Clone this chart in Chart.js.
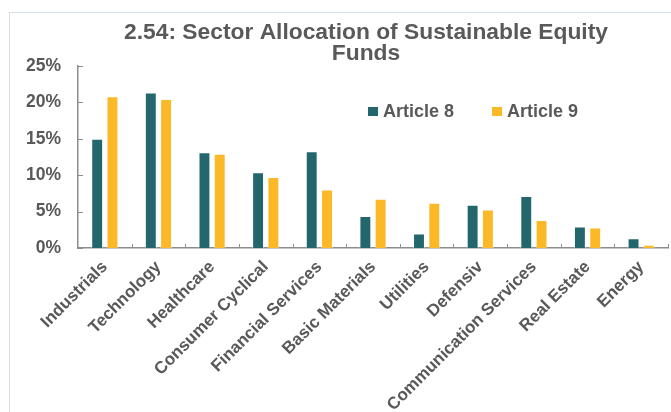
<!DOCTYPE html>
<html>
<head>
<meta charset="utf-8">
<script src="https://cdn.jsdelivr.net/npm/chart.js@4/dist/chart.umd.min.js"></script>
<style>
  html, body { margin: 0; padding: 0; background: #fff; }
  #chart { display: block; }
</style>
</head>
<body>
<canvas id="chart" width="671" height="412"></canvas>
<script>
// data (percent)
const categories = [
  "Industrials", "Technology", "Healthcare", "Consumer Cyclical",
  "Financial Services", "Basic Materials", "Utilities", "Defensiv",
  "Communication Services", "Real Estate", "Energy"
];
const article8 = [15.0, 21.35, 13.15, 10.4, 13.3, 4.4, 2.0, 5.95, 7.15, 2.95, 1.35];
const article9 = [20.85, 20.45, 12.95, 9.75, 8.05, 6.75, 6.2, 5.3, 3.85, 2.8, 0.45];
const yTicks = [0, 5, 10, 15, 20, 25];

const titleLines = ["2.54: Sector Allocation of Sustainable Equity", "Funds"];
const TEXT = "#595959";
const AXIS = "#8c8c8c";
const FONT = "'Liberation Sans', Arial, sans-serif";

// title, legend, frame and inside tick marks
const extras = {
  id: "extras",
  beforeDraw(chart) {
    const ctx = chart.ctx;
    ctx.save();
    ctx.strokeStyle = "#d4e0e5";
    ctx.lineWidth = 1;
    ctx.strokeRect(9.5, 12.5, 720, 500);
    ctx.restore();
  },
  afterDraw(chart) {
    const ctx = chart.ctx;
    ctx.save();
    // title
    ctx.fillStyle = TEXT;
    ctx.font = "bold 22.8px " + FONT;
    ctx.textAlign = "center";
    ctx.textBaseline = "alphabetic";
    ctx.fillText(titleLines[0], 366, 38.5);
    ctx.fillText(titleLines[1], 366, 60);

    // legend
    ctx.font = "bold 18px " + FONT;
    ctx.textAlign = "left";
    let x = 368;
    chart.data.datasets.forEach((ds) => {
      ctx.fillStyle = ds.backgroundColor;
      ctx.fillRect(x, 107, 10, 9);
      ctx.fillStyle = TEXT;
      ctx.fillText(ds.label, x + 15, 117);
      x += 15 + ctx.measureText(ds.label).width + 38;
    });

    // inside tick marks
    const xs = chart.scales.x, ys = chart.scales.y;
    const area = chart.chartArea;
    ctx.strokeStyle = AXIS;
    ctx.lineWidth = 1;
    ctx.beginPath();
    const half = (xs.getPixelForTick(1) - xs.getPixelForTick(0)) / 2;
    for (let i = 0; i < categories.length; i++) {
      const px = Math.round(xs.getPixelForTick(i) + half) + 0.5;
      ctx.moveTo(px, area.bottom);
      ctx.lineTo(px, area.bottom - 4);
    }
    yTicks.forEach((v) => {
      const py = Math.round(ys.getPixelForValue(v)) + 0.5;
      ctx.moveTo(area.left, py);
      ctx.lineTo(area.left + 5, py);
    });
    ctx.stroke();
    ctx.restore();
  }
};

new Chart(document.getElementById("chart"), {
  type: "bar",
  data: {
    labels: categories,
    datasets: [
      {
        label: "Article 8",
        data: article8,
        backgroundColor: "#23676c",
        borderColor: "rgba(255,255,255,0.45)",
        borderWidth: 1,
        categoryPercentage: 0.57,
        barPercentage: 0.78
      },
      {
        label: "Article 9",
        data: article9,
        backgroundColor: "#fbb827",
        borderColor: "rgba(255,255,255,0.45)",
        borderWidth: 1,
        categoryPercentage: 0.57,
        barPercentage: 0.78
      }
    ]
  },
  options: {
    responsive: false,
    animation: false,
    devicePixelRatio: 1,
    layout: { padding: { top: 66, right: 3, left: 0, bottom: 0 } },
    plugins: {
      legend: { display: false },
      title: { display: false },
      tooltip: { enabled: false }
    },
    scales: {
      x: {
        afterFit(scale) { scale.height = 164; },
        grid: { display: false, drawTicks: false },
        border: { display: true, color: AXIS, width: 1.5 },
        ticks: {
          color: TEXT,
          font: { family: FONT, size: 17, weight: "bold" },
          maxRotation: 45,
          minRotation: 45,
          autoSkip: false,
          padding: 9
        }
      },
      y: {
        min: 0,
        max: 25,
        afterFit(scale) { scale.width = 78; },
        afterBuildTicks(scale) { scale.ticks = yTicks.map((v) => ({ value: v })); },
        grid: { display: false, drawTicks: false },
        border: { display: true, color: AXIS, width: 1.5 },
        ticks: {
          color: TEXT,
          font: { family: FONT, size: 17.5, weight: "bold" },
          padding: 17,
          callback: (v) => v + "%"
        }
      }
    }
  },
  plugins: [extras]
});
</script>
</body>
</html>
